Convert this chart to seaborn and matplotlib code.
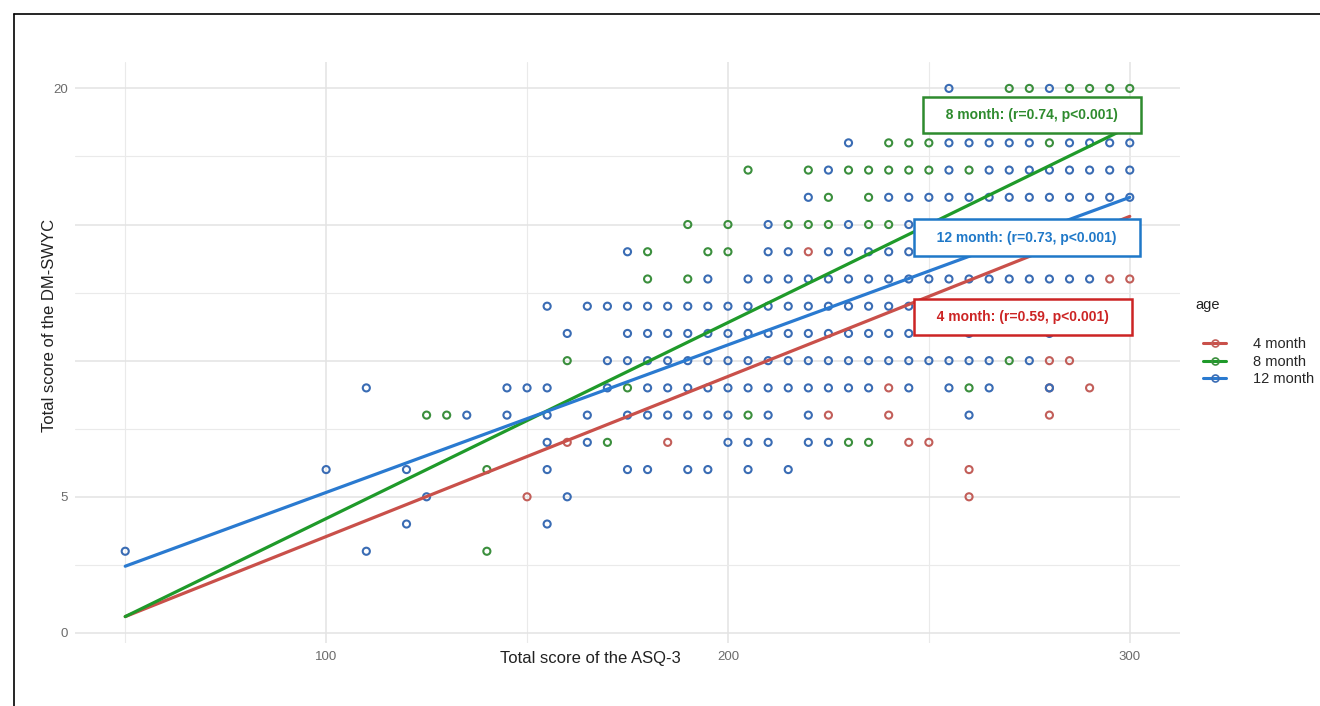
import pandas as pd
import seaborn as sns
import matplotlib.pyplot as plt
from matplotlib.lines import Line2D

ages = ["4 month", "8 month", "12 month"]

# DM-SWYC score -> ASQ-3 scores
rows_4m = {
    14: [220],
    13: [295, 300],
    10: [280, 285],
    9: [240, 280, 290],
    8: [225, 240, 280],
    7: [160, 185, 245, 250],
    6: [260],
    5: [150, 260],
}
rows_8m = {
    20: [270, 275, 285, 290, 295, 300],
    18: [240, 245, 250, 280],
    17: [205, 220, 230, 235, 240, 245, 250, 260],
    16: [225, 235],
    15: [190, 200, 215, 220, 225, 235, 240],
    14: [180, 195, 200],
    13: [180, 190],
    10: [160, 270],
    9: [175, 260],
    8: [125, 130, 205],
    7: [170, 230, 235],
    6: [140],
    3: [140],
}
rows_12m = {
    20: [255, 280],
    18: [230, 255, 260, 265, 270, 275, 285, 290, 295, 300],
    17: [225, 255, 265, 270, 275, 280, 285, 290, 295, 300],
    16: [220, 240, 245, 250, 255, 260, 265, 270, 275, 280, 285, 290, 295, 300],
    15: [210, 230, 245, 250, 260, 270, 280, 290, 300],
    14: [175, 210, 215, 225, 230, 235, 240, 245, 255, 265, 275, 285],
    13: [195, 205, 210, 215, 220, 225, 230, 235, 240, 245, 250, 255, 260,
         265, 270, 275, 280, 285, 290],
    12: [155, 165, 170, 175, 180, 185, 190, 195, 200, 205, 210, 215, 220,
         225, 230, 235, 240, 245, 255, 265, 275],
    11: [160, 175, 180, 185, 190, 195, 200, 205, 210, 215, 220, 225, 230,
         235, 240, 245, 260, 280],
    10: [170, 175, 180, 185, 190, 195, 200, 205, 210, 215, 220, 225, 230,
         235, 240, 245, 250, 255, 260, 265, 275],
    9: [110, 145, 150, 155, 170, 180, 185, 190, 195, 200, 205, 210, 215,
        220, 225, 230, 235, 245, 255, 265, 280],
    8: [135, 145, 155, 165, 175, 180, 185, 190, 195, 200, 210, 220, 260],
    7: [155, 165, 200, 205, 210, 220, 225],
    6: [100, 120, 155, 175, 180, 190, 195, 205, 215],
    5: [125, 160],
    4: [120, 155],
    3: [50, 110],
}

# fitted lines: value at the two ends of the ASQ-3 range
fit_x = [50, 300]
fit_lo = [0.6, 0.6, 2.45]
fit_hi = [15.3, 18.6, 16.0]
r_vals = [0.59, 0.74, 0.73]

point_cols = ["#c25e59", "#3b8f3d", "#3a6cb4"]
line_cols = ["#c9504a", "#1f9a2a", "#2a7ad0"]
box_cols = ["#cc2424", "#2e8b2e", "#1f78c8"]
ann_x = [273.4, 275.6, 274.4]
ann_y = [11.6, 19.03, 14.52]

recs = []
for age, rows in zip(ages, [rows_4m, rows_8m, rows_12m]):
    for y, xs in rows.items():
        for x in xs:
            recs.append((age, x, y))
df = pd.DataFrame(recs, columns=["age", "asq", "swyc"])

fits = pd.DataFrame({
    "age": [a for a in ages for _ in fit_x],
    "asq": fit_x * len(ages),
    "swyc": [v for lo, hi in zip(fit_lo, fit_hi) for v in (lo, hi)],
})

sns.set_theme(style="whitegrid")
plt.rcParams["font.family"] = ["Liberation Sans", "DejaVu Sans"]

fig = plt.figure(figsize=(13.2, 7.06), dpi=100)
ax = fig.add_axes([75 / 1320, 1 - 643 / 706, 1105 / 1320, 581 / 706])

sns.scatterplot(data=df, x="asq", y="swyc", hue="age", hue_order=ages,
                palette=point_cols, s=26, linewidth=1.5, legend=False,
                ax=ax, zorder=2)
pts = ax.collections[-1]
pts.set_edgecolors(pts.get_facecolors())
pts.set_facecolors("none")

sns.lineplot(data=fits, x="asq", y="swyc", hue="age", hue_order=ages,
             palette=line_cols, lw=2.3, errorbar=None, legend=False,
             ax=ax, zorder=3)

ax.set_xlim(37.5, 312.5)
ax.set_ylim(-0.37, 20.97)
ax.set_xticks([100, 200, 300])
ax.set_xticks([50, 150, 250], minor=True)
ax.set_yticks([0, 5, 10, 15, 20])
ax.set_yticklabels(["0", "5", "", "", "20"])
ax.set_yticks([2.5, 7.5, 12.5, 17.5], minor=True)
ax.grid(which="major", color="#e3e3e3", lw=1.1)
ax.grid(which="minor", color="#eaeaea", lw=0.8)
ax.set_facecolor("white")
for s in ax.spines.values():
    s.set_visible(False)
ax.tick_params(which="both", length=0, labelsize=9.5, colors="#6b6b6b")
ax.tick_params(axis="x", pad=6)
ax.tick_params(axis="y", pad=5)
ax.set_xlabel("")
ax.set_ylabel("")

fig.text(590 / 1320, 1 - 658 / 706, "Total score of the ASQ-3", ha="center",
         va="center", fontsize=12, color="#222222")
fig.text(50 / 1320, 1 - 325 / 706, "Total score of the DM-SWYC", ha="center",
         va="center", rotation=90, fontsize=12, color="#222222")

for i, age in enumerate(ages):
    ax.text(ann_x[i], ann_y[i], f"   {age}: (r={r_vals[i]:.2f}, p<0.001)   ",
            color=box_cols[i], fontsize=10, fontweight="bold", ha="center",
            va="center", zorder=5,
            bbox=dict(boxstyle="square,pad=0.8", fc="white", ec=box_cols[i],
                      lw=1.8))

handles = [Line2D([], [], color=line_cols[i], lw=2.2, marker="o", mfc="none",
                  mec=point_cols[i], ms=5, mew=1.2) for i in range(3)]
fig.text(1195 / 1320, 1 - 305 / 706, "age", ha="left", va="center",
         fontsize=10.5, color="#222222")
fig.legend(handles, ages, loc="upper left",
           bbox_to_anchor=(1203 / 1320, 1 - 337 / 706), frameon=False,
           fontsize=10.5, handlelength=1.6, handletextpad=1.8,
           labelspacing=0.25, borderpad=0, borderaxespad=0)

# screenshot frame
fig.add_artist(Line2D([14 / 1320, 1], [1 - 14 / 706, 1 - 14 / 706],
                      transform=fig.transFigure, color="black", lw=1.2))
fig.add_artist(Line2D([14 / 1320, 14 / 1320], [0, 1 - 14 / 706],
                      transform=fig.transFigure, color="black", lw=1.2))

fig.savefig("out.png", dpi=100)
